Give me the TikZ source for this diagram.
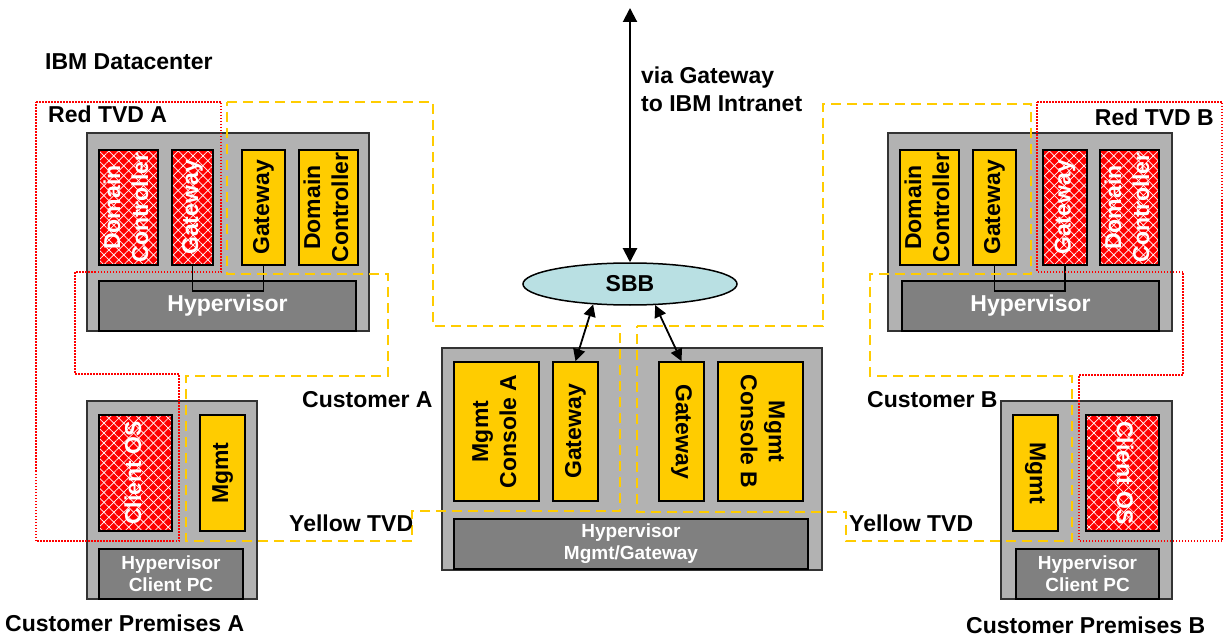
\documentclass[tikz,border=0pt]{standalone}
\usepackage{fontspec}
\setmainfont{Liberation Sans}
\usetikzlibrary{arrows.meta,shapes.geometric,patterns.meta}
\definecolor{tvdyellow}{HTML}{FFCC00}
\definecolor{boxgray}{HTML}{B2B2B2}
\definecolor{hypgray}{HTML}{808080}
\definecolor{sbbblue}{HTML}{B9E0E3}
\newcommand{\rtext}[2]{\rotatebox{#1}{\begin{tabular}{@{}c@{}}#2\end{tabular}}}
\begin{document}
\begin{tikzpicture}[x=1pt,y=-1pt,
  font=\fontsize{23}{28}\selectfont\bfseries,
  every node/.style={inner sep=0pt},
  host/.style={draw=black!80, line width=1.8pt, fill=boxgray},
  hyp/.style={draw=black, line width=1.8pt, fill=hypgray, text=white},
  smallhyp/.style={hyp, font=\fontsize{19}{22}\selectfont\bfseries, align=center},
  yvm/.style={draw=black, line width=1.8pt, fill=tvdyellow},
  rvm/.style={preaction={fill=red},
    preaction={pattern={Lines[angle=45,distance=7pt,line width=0.7pt]}, pattern color=white},
    pattern={Lines[angle=-45,distance=7pt,line width=0.7pt]}, pattern color=white,
    draw=black, line width=1.8pt, text=white},
  ytvd/.style={draw=tvdyellow, line width=1.8pt, dash pattern=on 10pt off 6pt},
  rtvd/.style={draw=red, line width=1.3pt, dash pattern=on 1.5pt off 1.5pt},
  link/.style={draw=black, line width=1.8pt},
  arr/.style={draw=black, line width=2pt, {Triangle[width=14pt,length=14pt]}-{Triangle[width=14pt,length=14pt]}},
  sarr/.style={draw=black, line width=1.8pt, {Triangle[width=12pt,length=12pt]}-{Triangle[width=12pt,length=12pt]}}]
\useasboundingbox (0,0) rectangle (1225,636);

% ---------- Server A ----------
\node[host, minimum width=282pt, minimum height=198pt] (hostA) at (228,232) {};
\node[hyp, minimum width=257pt, minimum height=50pt] (hypA) at (227.5,306) {Hypervisor};
\node[rvm, minimum width=59pt, minimum height=115pt] (rdcA) at (128.5,207.5) {\rtext{90}{Domain\\Controller}};
\node[rvm, minimum width=41pt, minimum height=115pt] (rgwA) at (192.5,207.5) {\rtext{90}{Gateway}};
\node[yvm, minimum width=43pt, minimum height=115pt] (ygwA) at (263.5,207.5) {\rtext{90}{Gateway}};
\node[yvm, minimum width=59pt, minimum height=115pt] (ydcA) at (328.5,207.5) {\rtext{90}{Domain\\Controller}};
\draw[link] (rgwA.south) -- ++(0,25) -| (ygwA.south);

% ---------- Server B ----------
\node[host, minimum width=284pt, minimum height=198pt] (hostB) at (1030,232) {};
\node[hyp, minimum width=257pt, minimum height=50pt] (hypB) at (1030.5,306) {Hypervisor};
\node[yvm, minimum width=59pt, minimum height=115pt] (ydcB) at (929.5,207.5) {\rtext{90}{Domain\\Controller}};
\node[yvm, minimum width=43pt, minimum height=115pt] (ygwB) at (994.5,207.5) {\rtext{90}{Gateway}};
\node[rvm, minimum width=44pt, minimum height=115pt] (rgwB) at (1065,207.5) {\rtext{90}{Gateway}};
\node[rvm, minimum width=59pt, minimum height=115pt] (rdcB) at (1129.5,207.5) {\rtext{90}{Domain\\Controller}};
\draw[link] (ygwB.south) -- ++(0,25) -| (rgwB.south);

% ---------- Center host ----------
\node[host, minimum width=380pt, minimum height=222pt] (hostC) at (632,459) {};
\node[yvm, minimum width=85pt, minimum height=139pt] (mcA) at (496.5,431.5) {\rtext{90}{Mgmt\\Console A}};
\node[yvm, minimum width=45pt, minimum height=139pt] (gwA) at (575.5,431.5) {\rtext{90}{Gateway}};
\node[yvm, minimum width=45pt, minimum height=139pt] (gwB) at (681.5,431.5) {\rtext{-90}{Gateway}};
\node[yvm, minimum width=85pt, minimum height=139pt] (mcB) at (760.5,431.5) {\rtext{-90}{Mgmt\\Console B}};
\node[smallhyp, minimum width=354pt, minimum height=50pt] (hypC) at (631,544) {Hypervisor\\Mgmt/Gateway};

% ---------- Client A ----------
\node[host, minimum width=170pt, minimum height=198pt] (hostPA) at (172,500) {};
\node[rvm, minimum width=73pt, minimum height=116pt] (cosA) at (135.5,473) {\rtext{90}{Client OS}};
\node[yvm, minimum width=45pt, minimum height=116pt] (mgA) at (222.5,473) {\rtext{90}{Mgmt}};
\node[smallhyp, minimum width=144pt, minimum height=50pt] (hypPA) at (171,574) {Hypervisor\\Client PC};

% ---------- Client B ----------
\node[host, minimum width=171pt, minimum height=198pt] (hostPB) at (1086.5,500) {};
\node[yvm, minimum width=45pt, minimum height=116pt] (mgB) at (1035.5,473) {\rtext{-90}{Mgmt}};
\node[rvm, minimum width=73pt, minimum height=116pt] (cosB) at (1122.5,473) {\rtext{-90}{Client OS}};
\node[smallhyp, minimum width=143pt, minimum height=50pt] (hypPB) at (1087.5,574) {Hypervisor\\Client PC};

% ---------- TVD outlines ----------
\draw[rtvd] (36,102) -- (221,102) -- (221,272) -- (75,272) -- (75,374) -- (179,374) -- (179,541) -- (36,541) -- cycle;
\draw[rtvd] (1037,102) -- (1222,102) -- (1222,541) -- (1079,541) -- (1079,375) -- (1183,375) -- (1183,272) -- (1037,272) -- cycle;
\draw[ytvd] (227,102) -- (433,102) -- (433,326) -- (620,326) -- (620,511) -- (412,511) -- (412,541) -- (186,541) -- (186,376) -- (388,376) -- (388,274) -- (227,274) -- cycle;
\draw[ytvd] (637,326) -- (823,326) -- (823,104) -- (1031,104) -- (1031,274) -- (870,274) -- (870,376) -- (1072,376) -- (1072,541) -- (846,541) -- (846,512) -- (637,512) -- cycle;

% ---------- SBB and arrows ----------
\node[ellipse, draw=black, line width=1.5pt, fill=sbbblue, minimum width=214pt, minimum height=42pt] (sbb) at (630,284) {SBB};
\coordinate (intranet) at (630,8);
\draw[arr] (intranet) -- (sbb.north);
\draw[sarr] (sbb.209.7) -- (gwA.north);
\draw[sarr] (sbb.-40.3) -- (gwB.north);

% ---------- Labels ----------
\node[anchor=west] (lblDC) at (45,62) {IBM Datacenter};
\node[anchor=west] (lblRA) at (48,114) {Red TVD A};
\node[anchor=east] (lblRB) at (1214,117) {Red TVD B};
\node[anchor=west, align=left] (lblVia) at (641,89) {via Gateway\\to IBM Intranet};
\node[anchor=west] (lblCA) at (302,400) {Customer A};
\node[anchor=west] (lblYA) at (289,523) {Yellow TVD};
\node[anchor=west] (lblCB) at (867,400) {Customer B};
\node[anchor=west] (lblYB) at (849,523) {Yellow TVD};
\node[anchor=west] (lblPA) at (5,623) {Customer Premises A};
\node[anchor=west] (lblPB) at (966,625) {Customer Premises B};
\end{tikzpicture}
\end{document}
